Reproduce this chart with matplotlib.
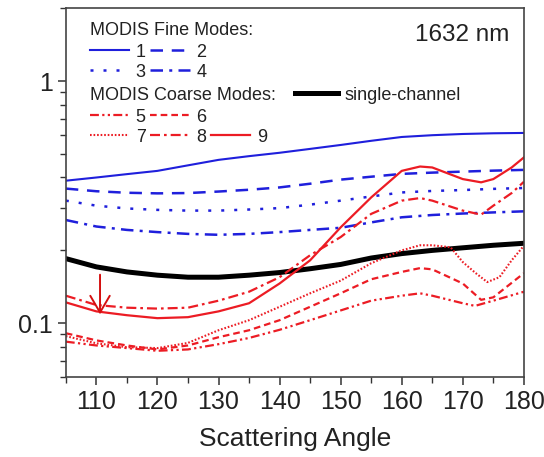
import matplotlib
matplotlib.use("Agg")
import matplotlib.pyplot as plt
from matplotlib.legend import Legend
from matplotlib.ticker import FixedLocator, NullFormatter, LogLocator

plt.rcParams['font.family'] = ['Liberation Sans', 'DejaVu Sans']

# scattering angles (deg) and phase-function-like values
ang = [105, 110, 115, 120, 125, 130, 135, 140, 145, 150, 155, 160, 165, 170, 175, 180]
fine1 = [0.388, 0.400, 0.413, 0.426, 0.449, 0.473, 0.490, 0.506, 0.525, 0.545, 0.567, 0.588, 0.598, 0.605, 0.609, 0.611]
fine2 = [0.360, 0.351, 0.346, 0.344, 0.345, 0.350, 0.356, 0.364, 0.377, 0.392, 0.403, 0.414, 0.419, 0.423, 0.427, 0.430]
fine3 = [0.321, 0.306, 0.298, 0.294, 0.292, 0.292, 0.295, 0.299, 0.309, 0.321, 0.334, 0.347, 0.352, 0.355, 0.359, 0.362]
fine4 = [0.267, 0.251, 0.243, 0.238, 0.234, 0.232, 0.234, 0.238, 0.243, 0.248, 0.261, 0.274, 0.280, 0.284, 0.287, 0.290]
single = [0.185, 0.171, 0.163, 0.158, 0.155, 0.155, 0.158, 0.162, 0.168, 0.175, 0.186, 0.194, 0.200, 0.205, 0.210, 0.214]

ang5 = [105, 110, 115, 120, 125, 130, 135, 140, 145, 150, 155, 160, 163, 165, 170, 172, 175, 180]
coarse5 = [0.084, 0.081, 0.079, 0.077, 0.078, 0.082, 0.087, 0.094, 0.103, 0.113, 0.124, 0.130, 0.133, 0.130, 0.121, 0.118, 0.124, 0.135]
ang6 = [105, 110, 115, 120, 125, 130, 135, 140, 145, 150, 155, 160, 163, 165, 170, 173, 175, 180]
coarse6 = [0.091, 0.085, 0.081, 0.078, 0.081, 0.0876, 0.0936, 0.103, 0.117, 0.133, 0.152, 0.163, 0.169, 0.167, 0.146, 0.125, 0.128, 0.161]
ang7 = [105, 110, 115, 120, 125, 130, 135, 140, 145, 150, 155, 160, 163, 165, 168, 170, 172, 174, 176, 178, 180]
coarse7 = [0.0885, 0.0827, 0.0797, 0.079, 0.083, 0.0936, 0.103, 0.117, 0.133, 0.150, 0.177, 0.200, 0.210, 0.210, 0.206, 0.179, 0.162, 0.148, 0.155, 0.182, 0.209]
ang89 = [105, 110, 115, 120, 125, 130, 135, 140, 145, 150, 155, 160, 163, 165, 170, 173, 175, 178, 180]
coarse8 = [0.130, 0.119, 0.116, 0.115, 0.116, 0.124, 0.135, 0.155, 0.191, 0.227, 0.283, 0.321, 0.329, 0.321, 0.292, 0.281, 0.306, 0.345, 0.384]
coarse9 = [0.122, 0.112, 0.108, 0.105, 0.106, 0.112, 0.121, 0.146, 0.182, 0.249, 0.331, 0.426, 0.444, 0.440, 0.394, 0.382, 0.394, 0.440, 0.484]

blue = '#1f1fdc'
red = '#ec1c24'

fig = plt.figure(figsize=(5.44, 4.57), dpi=100)
ax = fig.add_axes([0.121, 0.175, 0.842, 0.807])

h1, = ax.plot(ang, fine1, color=blue, lw=1.5, ls='-')
h2, = ax.plot(ang, fine2, color=blue, lw=1.8, ls=(0, (5, 3.5)))
h3, = ax.plot(ang, fine3, color=blue, lw=1.8, ls=(0, (1.2, 4)))
h4, = ax.plot(ang, fine4, color=blue, lw=1.8, ls=(0, (5, 2.5, 1.2, 2.5)))
hs, = ax.plot(ang, single, color='black', lw=3.6, ls='-')
h5, = ax.plot(ang5, coarse5, color=red, lw=1.6, ls=(0, (4, 1.5, 1, 1.5, 1, 1.5)))
h6, = ax.plot(ang6, coarse6, color=red, lw=1.6, ls=(0, (3, 1.8)))
h7, = ax.plot(ang7, coarse7, color=red, lw=1.5, ls=(0, (0.8, 0.9)))
h8, = ax.plot(ang89, coarse8, color=red, lw=1.6, ls=(0, (4.5, 1.8, 1.2, 1.8)))
h9, = ax.plot(ang89, coarse9, color=red, lw=1.6, ls='-')

ax.annotate('', xy=(110.6, 0.106), xytext=(110.6, 0.163),
            arrowprops=dict(arrowstyle='->,head_length=1.2,head_width=0.7', color='#d41010', lw=1.4))

ax.set_yscale('log')
ax.set_xlim(105, 180)
ax.set_ylim(0.06, 2.0)

ax.xaxis.set_major_locator(FixedLocator([110, 120, 130, 140, 150, 160, 170, 180]))
ax.xaxis.set_minor_locator(FixedLocator([105, 115, 125, 135, 145, 155, 165, 175]))
ax.yaxis.set_major_locator(FixedLocator([0.1, 1]))
ax.set_yticklabels(['0.1', '1'])
ax.yaxis.set_minor_locator(LogLocator(base=10, subs=[2, 3, 4, 5, 6, 7, 8, 9]))
ax.yaxis.set_minor_formatter(NullFormatter())

ax.tick_params(which='both', direction='out', colors='#333333', labelcolor='#222222',
               top=False, right=False)
ax.tick_params(which='major', length=6, width=1.1, labelsize=18)
ax.tick_params(which='minor', length=4, width=1.0)
for sp in ax.spines.values():
    sp.set_color('#444444')
    sp.set_linewidth(1.2)

ax.set_xlabel('Scattering Angle', fontsize=19, color='#222222', labelpad=9)

ax.text(0.969, 0.927, '1632 nm', transform=ax.transAxes, ha='right', va='center',
        fontsize=17.5, color='#222222')
ax.text(0.052, 0.940, 'MODIS Fine Modes:', transform=ax.transAxes, ha='left', va='center',
        fontsize=13, color='#222222')
ax.text(0.052, 0.764, 'MODIS Coarse Modes:', transform=ax.transAxes, ha='left', va='center',
        fontsize=13, color='#222222')


def key_row(handles, labels, x, y, hl=2.2):
    leg = Legend(ax, handles, labels, loc='center left', bbox_to_anchor=(x, y),
                 bbox_transform=ax.transAxes, ncol=len(handles), frameon=False,
                 fontsize=13, handlelength=hl, handletextpad=0.35,
                 columnspacing=0.25, borderpad=0, borderaxespad=0)
    for t in leg.get_texts():
        t.set_color('#222222')
    ax.add_artist(leg)


key_row([h1, h2], ['1', '2'], 0.052, 0.881)
key_row([h3, h4], ['3', '4'], 0.052, 0.827)
key_row([hs], ['single-channel'], 0.500, 0.764, hl=2.4)
key_row([h5, h6], ['5', '6'], 0.052, 0.705)
key_row([h7, h8, h9], ['7', '8', '9'], 0.052, 0.650)

fig.savefig('out.png', dpi=100)
